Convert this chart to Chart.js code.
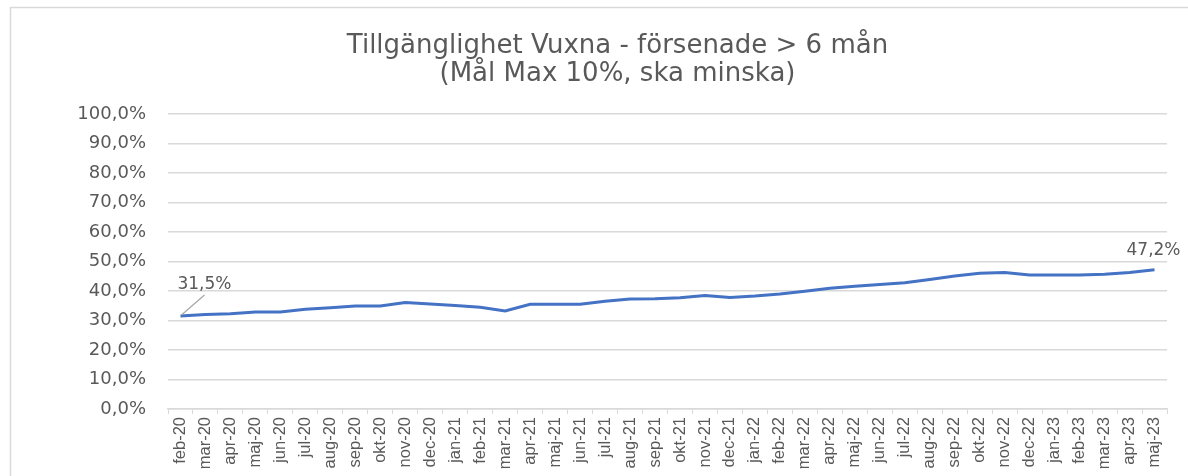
<!DOCTYPE html>
<html>
<head>
<meta charset="utf-8">
<script src="https://cdn.jsdelivr.net/npm/chart.js@4.4.1/dist/chart.umd.min.js"></script>
<style>
  html, body { margin: 0; padding: 0; background: #ffffff; }
  #wrap { position: relative; width: 1188px; height: 476px; }
</style>
</head>
<body>
<div id="wrap"><canvas id="c" width="1188" height="476"></canvas></div>
<script>
const titleLines = ['Tillgänglighet Vuxna - försenade > 6 mån', '(Mål Max 10%, ska minska)'];
const months = ['feb-20','mar-20','apr-20','maj-20','jun-20','jul-20','aug-20','sep-20','okt-20','nov-20','dec-20',
  'jan-21','feb-21','mar-21','apr-21','maj-21','jun-21','jul-21','aug-21','sep-21','okt-21','nov-21','dec-21',
  'jan-22','feb-22','mar-22','apr-22','maj-22','jun-22','jul-22','aug-22','sep-22','okt-22','nov-22','dec-22',
  'jan-23','feb-23','mar-23','apr-23','maj-23'];
const delayedShare = [31.5, 32.0, 32.3, 32.9, 32.9, 33.8, 34.3, 34.9, 34.9, 36.1, 35.6,
  35.1, 34.5, 33.2, 35.5, 35.5, 35.5, 36.5, 37.3, 37.4, 37.7, 38.5,
  37.8, 38.3, 39.0, 39.9, 40.9, 41.6, 42.2, 42.8, 43.9, 45.1,
  46.0, 46.3, 45.4, 45.4, 45.4, 45.7, 46.3, 47.2];
const yTicks = [0, 10, 20, 30, 40, 50, 60, 70, 80, 90, 100];
const labelledPoints = [0, 39];

const fmt = v => v.toFixed(1).replace('.', ',') + '%';

const frame = {
  id: 'frame',
  beforeDraw(chart) {
    const ctx = chart.ctx;
    ctx.save();
    ctx.fillStyle = '#ffffff';
    ctx.fillRect(0, 0, chart.width, chart.height);
    ctx.strokeStyle = '#d9d9d9';
    ctx.lineWidth = 1.5;
    ctx.strokeRect(10.5, 7.5, 1400, 700);
    ctx.restore();
  }
};

const pointLabels = {
  id: 'pointLabels',
  afterDatasetsDraw(chart) {
    const ctx = chart.ctx;
    const meta = chart.getDatasetMeta(0);
    ctx.save();
    ctx.font = '17px "DejaVu Sans"';
    ctx.fillStyle = '#595959';
    labelledPoints.forEach(i => {
      const p = meta.data[i];
      const txt = fmt(delayedShare[i]);
      if (i === 0) {
        ctx.strokeStyle = '#a6a6a6';
        ctx.lineWidth = 1.2;
        ctx.beginPath();
        ctx.moveTo(p.x + 1, p.y - 1);
        ctx.lineTo(p.x + 24, p.y - 21);
        ctx.stroke();
        ctx.textAlign = 'left';
        ctx.textBaseline = 'alphabetic';
        ctx.fillText(txt, p.x - 3, p.y - 27);
      } else {
        ctx.textAlign = 'center';
        ctx.textBaseline = 'alphabetic';
        ctx.fillText(txt, p.x - 1, p.y - 15);
      }
    });
    ctx.restore();
  }
};

new Chart(document.getElementById('c'), {
  type: 'line',
  data: {
    labels: months,
    datasets: [{
      data: delayedShare,
      borderColor: '#4472C4',
      borderWidth: 3,
      pointRadius: 0,
      tension: 0,
      fill: false
    }]
  },
  options: {
    responsive: false,
    animation: false,
    devicePixelRatio: 1,
    layout: { padding: { left: 68, right: 21, top: 0, bottom: 0 } },
    plugins: {
      legend: { display: false },
      tooltip: { enabled: false },
      title: {
        display: true,
        text: titleLines,
        color: '#595959',
        font: { family: '"DejaVu Sans"', size: 26, weight: 'normal', lineHeight: 1.077 },
        padding: { top: 32, bottom: 26 }
      }
    },
    scales: {
      x: {
        offset: true,
        grid: {
          display: true,
          drawOnChartArea: false,
          drawTicks: true,
          tickLength: 5,
          offset: true,
          color: '#d9d9d9'
        },
        border: { display: true, color: '#d9d9d9', width: 1.5 },
        ticks: {
          autoSkip: false,
          maxRotation: 90,
          minRotation: 90,
          padding: 3,
          color: '#595959',
          font: { family: '"Liberation Sans", Arial, sans-serif', size: 16.5 }
        },
        afterFit(axis) { axis.height = 67; }
      },
      y: {
        min: 0,
        max: 100,
        afterBuildTicks(axis) { axis.ticks = yTicks.map(v => ({ value: v })); },
        grid: { color: '#d9d9d9', lineWidth: 1.5, drawTicks: false },
        border: { display: false },
        ticks: {
          padding: 22,
          color: '#595959',
          font: { family: '"DejaVu Sans"', size: 18 },
          callback: v => fmt(v)
        },
        afterFit(axis) { axis.width = 100; }
      }
    }
  },
  plugins: [frame, pointLabels]
});
</script>
</body>
</html>
